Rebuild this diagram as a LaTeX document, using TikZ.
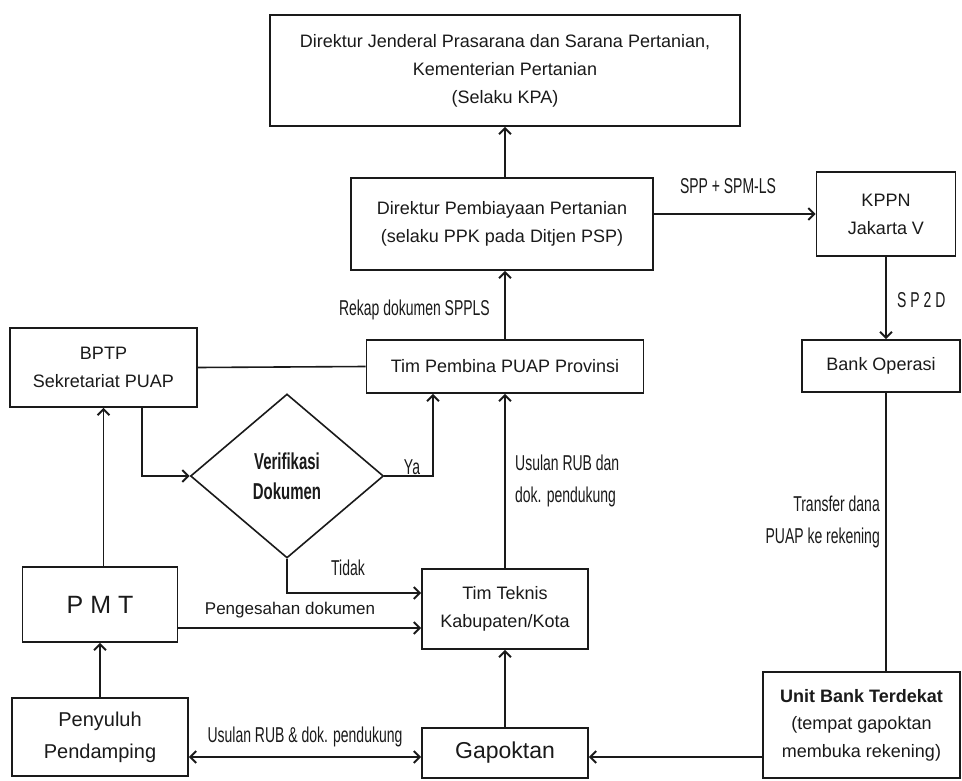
\documentclass[tikz,border=0pt]{standalone}
\usepackage{fontspec}
\setmainfont{Liberation Sans}
\newfontfamily\narrowfont[FakeStretch=0.65]{Liberation Sans}
\usetikzlibrary{arrows.meta,shapes.geometric,calc}
\definecolor{ink}{HTML}{1A1A1A}
\begin{document}
\begin{tikzpicture}[x=1pt,y=-1pt,
  box/.style={draw=ink, line width=1.6pt, rectangle, align=center, inner sep=2pt, text=ink, font=\fontsize{18}{28}\selectfont},
  lbl/.style={text=ink, font=\narrowfont\fontsize{21.5}{32}\selectfont, inner sep=0pt},
  plbl/.style={text=ink, font=\fontsize{17}{20}\selectfont, inner sep=0pt},
  ln/.style={draw=ink, line width=1.6pt},
  arr/.style={ln, -{Straight Barb[length=6pt,width=12pt,line width=2pt]}},
  darr/.style={ln, {Straight Barb[length=6pt,width=12pt,line width=2pt]}-{Straight Barb[length=6pt,width=12pt,line width=2pt]}}]
\useasboundingbox[fill=white] (0,0) rectangle (962,781);

% boxes
\node[box, minimum width=470pt, minimum height=111pt] (top) at (505,70.5)
  {Direktur Jenderal Prasarana dan Sarana Pertanian,\\Kementerian Pertanian\\(Selaku KPA)};
\node[box, minimum width=302pt, minimum height=92pt] (pemb) at (502,224)
  {Direktur Pembiayaan Pertanian\\(selaku PPK pada Ditjen PSP)};
\node[box, minimum width=139pt, minimum height=84pt] (kppn) at (886,214)
  {KPPN\\Jakarta V};
\node[box, minimum width=158pt, minimum height=52pt] (bank) at (881,366)
  {Bank Operasi};
\node[box, minimum width=277pt, minimum height=53pt] (pembina) at (505,366.5)
  {Tim Pembina PUAP Provinsi};
\node[box, minimum width=187pt, minimum height=79pt] (bptp) at (103.5,367.5)
  {BPTP\\Sekretariat PUAP};
\node[draw=ink, line width=1.6pt, diamond, inner sep=0pt, minimum width=193pt, minimum height=164pt,
  align=center, text=ink, font=\narrowfont\bfseries\fontsize{23}{30}\selectfont] (dia) at (287,476)
  {Verifikasi\\Dokumen};
\node[box, minimum width=166pt, minimum height=80pt] (teknis) at (505,609)
  {Tim Teknis\\Kabupaten/Kota};
\node[box, minimum width=155pt, minimum height=75pt, font=\fontsize{25}{30}\selectfont] (pmt) at (100,604.5)
  {P M T};
\node[box, minimum width=176pt, minimum height=78pt, font=\fontsize{20}{32}\selectfont] (peny) at (100,737)
  {Penyuluh\\Pendamping};
\node[box, minimum width=166pt, minimum height=50pt, font=\fontsize{23}{28}\selectfont] (gap) at (505,753)
  {Gapoktan};
\node[box, minimum width=197pt, minimum height=106pt, font=\fontsize{18}{27.5}\selectfont] (unit) at (861.5,725)
  {\textbf{Unit Bank Terdekat}\\(tempat gapoktan\\membuka rekening)};

% helper coordinates
\coordinate (g1) at ([yshift=-4pt]gap.east);
\coordinate (g2) at ([yshift=-4pt]gap.west);
\coordinate (b1) at ([xshift=38.5pt]bptp.south);
\coordinate (y1) at ([xshift=-72pt]pembina.south);
\coordinate (t1) at ([yshift=16pt]teknis.west);
\coordinate (p1) at ([yshift=-19pt]teknis.west);

% connectors
\draw[arr] (pemb.north -| top.south) -- (top.south);
\draw[arr] (pembina.north) -- (pembina.north |- pemb.south);
\draw[arr] (pemb.east |- kppn.west) -- (kppn.west);
\draw[arr] (kppn.south) -- (kppn.south |- bank.north);
\draw[ln] (bank.south -| kppn.south) -- (kppn.south |- unit.north);
\draw[arr] (unit.west |- g1) -- (g1);
\draw[darr] (peny.east |- g2) -- (g2);
\draw[arr] (gap.north) -- (teknis.south);
\draw[arr] (teknis.north) -- (pembina.south);
\draw[arr] (peny.north) -- (pmt.south);
\draw[arr] (bptp.south |- pmt.north) -- (bptp.south);
\draw[ln] (bptp.east) -- (pembina.west);
\draw[arr] (b1) |- (dia.west);
\draw[arr] (dia.east) -| (y1);
\draw[arr] (dia.south) |- (t1);
\draw[arr] (pmt.east |- p1) -- (p1);

% labels
\node[lbl] (lspp) at (728,186) {SPP + SPM-LS};
\node[lbl, anchor=west] (lsp2d) at (897,300) {S P 2 D};
\node[lbl, anchor=east, align=right] (ltr) at (880,522) {Transfer dana\\PUAP ke rekening};
\node[lbl, anchor=east] (lrek) at (490,310) {Rekap dokumen SPPLS};
\node[lbl] (lya) at (412,467) {Ya};
\node[lbl, anchor=west, align=left] (lus) at (515,481) {Usulan RUB dan\\dok. pendukung};
\node[lbl] (ltd) at (348,568) {Tidak};
\node[plbl] (lpeng) at (290,610) {Pengesahan dokumen};
\node[lbl] (lusul) at (305,737) {Usulan RUB \& dok. pendukung};
\end{tikzpicture}
\end{document}
